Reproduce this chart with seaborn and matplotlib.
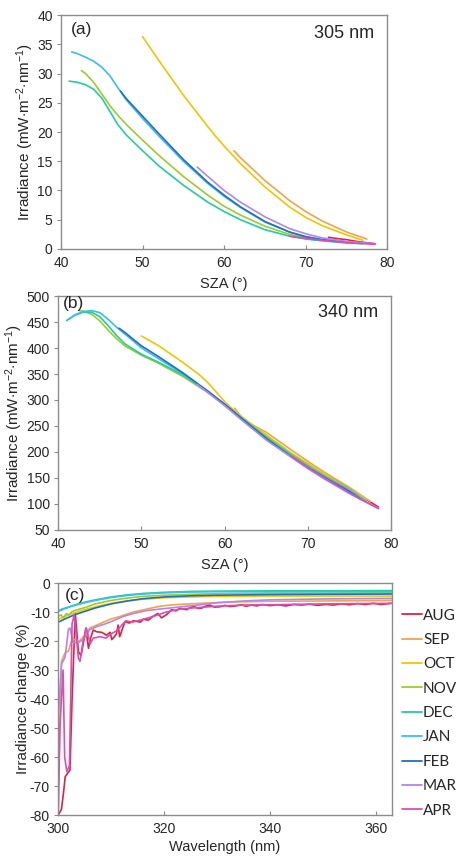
import pandas as pd
import seaborn as sns
import matplotlib.pyplot as plt

# months and colours
months = ['AUG', 'SEP', 'OCT', 'NOV', 'DEC', 'JAN', 'FEB', 'MAR', 'APR']
colors = ['#d7263d', '#f0a54a', '#f2c500', '#9ccc2c', '#1fcf9c',
          '#3cbcf0', '#1f6fc5', '#b384f5', '#d94fb5']

# (a)/(b) irradiance vs SZA, per month: SZA, 305 nm, 340 nm
sza_aug = [72.8, 74, 75, 76, 77, 78.5]
i305_aug = [2.0, 1.75, 1.6, 1.35, 1.15, 0.9]
i340_aug = [151, 139, 129, 119, 109, 94]

sza_sep = [61.2, 62, 63, 65, 68, 70, 72, 75, 77.5]
i305_sep = [16.8, 15.6, 14.3, 11.7, 8.3, 6.4, 4.8, 2.9, 1.7]
i340_sep = [284, 268, 255, 238, 204, 182, 161, 132, 105]

sza_oct = [50, 52, 55, 57, 58, 59, 60, 61, 62, 65, 68, 70, 72, 75, 77]
i305_oct = [36.3, 32.2, 26.3, 22.7, 20.9, 19.2, 17.6, 16.1, 14.6, 10.6, 7.2, 5.4, 4.0,
            2.4, 1.5]
i340_oct = [423, 405, 372, 348, 333, 315, 297, 282, 268, 233, 198, 178, 158, 128, 109]

sza_nov = [42.5, 43, 44, 45, 46, 47, 48, 50, 52, 55, 58, 60, 62, 65, 68, 70, 72, 75, 77]
i305_nov = [30.5, 30.0, 28.5, 26.5, 24.5, 22.8, 21.3, 18.6, 16.0, 12.4, 9.2, 7.3, 5.8,
            3.9, 2.5, 1.9, 1.5, 1.1, 0.95]
i340_nov = [472, 471, 465, 452, 434, 418, 404, 386, 371, 345, 314, 291, 266, 230, 196,
            175, 155, 128, 106]

sza_dec = [41, 42, 43, 44, 45, 46, 47, 48, 50, 52, 55, 58, 60, 62, 65, 68, 70, 72, 75, 77]
i305_dec = [28.7, 28.5, 28.1, 27.3, 25.8, 23.5, 21.2, 19.5, 16.8, 14.2, 10.9, 8.0, 6.4,
            5.0, 3.3, 2.2, 1.7, 1.4, 1.05, 0.9]
i340_dec = [453, 463, 469, 469, 460, 443, 424, 408, 388, 373, 348, 316, 292, 266, 228,
            194, 173, 153, 125, 104]

sza_jan = [41.3, 42, 43, 44, 45, 46, 47, 48, 50, 52, 55, 58, 60, 62, 65, 68, 70, 72, 75, 77]
i305_jan = [33.7, 33.4, 32.8, 32.1, 31.1, 29.6, 27.5, 25.5, 22.3, 19.3, 15.0, 11.2, 9.0,
            7.1, 4.6, 2.9, 2.1, 1.6, 1.2, 1.0]
i340_jan = [456, 464, 470, 472, 468, 455, 440, 427, 400, 380, 350, 315, 291, 264, 226,
            192, 172, 153, 127, 105]

sza_feb = [47.3, 48, 50, 52, 55, 58, 60, 62, 65, 68, 70, 72, 75, 76.5]
i305_feb = [27.0, 25.7, 22.7, 19.7, 15.3, 11.4, 9.2, 7.2, 4.7, 2.9, 2.1, 1.6, 1.15, 1.0]
i340_feb = [438, 430, 404, 384, 352, 317, 292, 265, 226, 191, 170, 151, 124, 108]

sza_mar = [56.7, 58, 60, 62, 65, 68, 70, 72, 75, 78.5]
i305_mar = [14.0, 12.4, 10.0, 8.0, 5.5, 3.5, 2.6, 1.9, 1.3, 0.9]
i340_mar = [330, 314, 289, 262, 223, 190, 168, 148, 120, 92]

sza_apr = [68, 70, 72, 74, 76, 78.5]
i305_apr = [2.2, 1.8, 1.5, 1.2, 1.0, 0.8]
i340_apr = [192, 170, 150, 131, 112, 91]

# (c) irradiance change vs wavelength
wl_aug = [300, 300.3, 300.6, 301, 301.3, 301.6, 302.2, 302.6, 303.2, 303.8, 304.3, 304.7,
          305.2, 305.7, 306.1, 306.6, 307.2, 308.2, 309.1, 309.8, 310.1, 310.6, 311,
          311.3, 311.6, 312.6, 313.4, 314.2, 315.5, 316.1, 317.0, 317.9, 318.8, 319.5,
          320.4, 321.4, 322.2, 323, 324.2, 325.5, 326.2, 327, 327.8, 328.6, 329.5, 330.5,
          331.5, 332.5, 333.5, 334.5, 335.5, 336.5, 337.5, 338.5, 340, 341.5, 343, 344.5,
          346, 347.5, 349, 350.5, 352, 353.5, 355, 356.5, 358, 359.5, 361, 362.5, 363]
ch_aug = [-80, -79, -78, -72, -66.8, -66, -64.5, -40, -10.5, -23.7, -25, -21, -15.6,
          -22.5, -19, -16.2, -16.8, -17, -18, -17, -19.5, -18.5, -17.5, -14.5, -18.5,
          -13.3, -13.8, -13, -13.5, -12.5, -12.8, -11.5, -10.5, -12, -11, -9.2, -9.6,
          -8.7, -9.2, -8, -8.6, -8.7, -8.0, -7.6, -8.3, -8.2, -7.7, -8.1, -7.9, -7.5,
          -8.0, -7.6, -7.9, -7.4, -7.8, -7.5, -7.9, -7.4, -7.6, -7.3, -7.7, -7.4, -7.6,
          -7.2, -7.5, -7.1, -7.4, -7.0, -7.4, -7.1, -7.0]

wl_sep = [300, 300.3, 300.6, 301.3, 301.9, 302.5, 303.1, 304, 305, 306, 307.9, 309.8,
          311.7, 314.2, 316.7, 319.2, 321.7, 326.8, 332, 340, 350, 363]
ch_sep = [-72, -48, -27, -24, -23.5, -20, -19.5, -20, -18, -15.5, -14, -12.5, -11.5,
          -10, -9, -8, -7.5, -7, -6.6, -6.3, -6.2, -6.0]

wl_oct = [300, 301, 302, 303, 305, 307, 310, 313, 316, 320, 325, 330, 340, 350, 363]
ch_oct = [-12.5, -11.8, -11, -10.3, -9.2, -8.2, -7, -6.2, -5.6, -5.1, -4.8, -4.6, -4.5,
          -4.5, -4.5]

wl_nov = [300, 300.5, 301, 301.5, 302, 302.5, 303, 304, 305, 307, 310, 313, 316, 320,
          325, 330, 340, 350, 363]
ch_nov = [-11.5, -11, -12, -10.5, -11, -10, -9.5, -9, -8.5, -7.2, -6, -5.2, -4.6, -4.2,
          -3.9, -3.7, -3.5, -3.5, -3.4]

wl_dec = [300, 301, 302, 303, 305, 307, 310, 313, 316, 320, 325, 330, 340, 350, 363]
ch_dec = [-9.5, -8.8, -8.3, -7.6, -6.6, -5.8, -4.8, -4.1, -3.6, -3.2, -2.9, -2.8, -2.7,
          -2.7, -2.6]

wl_jan = [300, 301, 302, 303, 305, 307, 310, 313, 316, 320, 325, 330, 340, 350, 363]
ch_jan = [-9.8, -9.0, -8.3, -7.8, -6.8, -6.0, -5.0, -4.3, -3.8, -3.4, -3.1, -3.0, -3.0,
          -3.0, -3.0]

wl_feb = [300, 301, 302, 303, 305, 307, 310, 313, 316, 320, 325, 330, 340, 350, 363]
ch_feb = [-13.5, -12.6, -11.8, -11.0, -9.8, -8.6, -7.2, -6.2, -5.4, -4.8, -4.4, -4.2,
          -4.0, -3.9, -3.8]

wl_mar = [300, 300.6, 301.3, 301.9, 302.2, 302.8, 303.8, 304.7, 306, 307.3, 309, 310.4,
          312.3, 314.2, 316.7, 319.2, 321.7, 324.2, 326.8, 330, 335, 340, 350, 363]
ch_mar = [-45, -28, -25.5, -16, -15.5, -20.5, -20.5, -19.5, -16, -15, -14, -13, -11.5,
          -10.5, -9.5, -9, -8.5, -8, -7.5, -6.8, -6.2, -5.8, -5.5, -5.3]

wl_apr = [300, 300.3, 300.9, 301.2, 301.6, 302.1, 302.6, 303, 303.8, 304.1, 304.7, 305.3,
          306, 306.6, 307.9, 309, 310, 311, 312, 312.8, 314, 316, 318, 320.4, 323, 326,
          330, 335, 340, 350, 363]
ch_apr = [-80, -50, -30, -60, -65, -63, -14, -11, -26, -27, -20, -15.5, -21, -19, -18.5,
          -19, -17.5, -16.5, -14.5, -13, -13.5, -12.5, -11.5, -10, -9, -8.5, -8, -7.6,
          -7.5, -7.2, -7.0]

sza_all = [sza_aug, sza_sep, sza_oct, sza_nov, sza_dec, sza_jan, sza_feb, sza_mar, sza_apr]
i305_all = [i305_aug, i305_sep, i305_oct, i305_nov, i305_dec, i305_jan, i305_feb, i305_mar, i305_apr]
i340_all = [i340_aug, i340_sep, i340_oct, i340_nov, i340_dec, i340_jan, i340_feb, i340_mar, i340_apr]
wl_all = [wl_aug, wl_sep, wl_oct, wl_nov, wl_dec, wl_jan, wl_feb, wl_mar, wl_apr]
ch_all = [ch_aug, ch_sep, ch_oct, ch_nov, ch_dec, ch_jan, ch_feb, ch_mar, ch_apr]


def long_df(xs, ys):
    rows = []
    for m, xx, yy in zip(months, xs, ys):
        for a, b in zip(xx, yy):
            rows.append((m, a, b))
    return pd.DataFrame(rows, columns=['month', 'x', 'y'])


df_a = long_df(sza_all, i305_all)
df_b = long_df(sza_all, i340_all)
df_c = long_df(wl_all, ch_all)

sns.set_style('white')
plt.rcParams['font.family'] = ['Liberation Sans', 'DejaVu Sans']
plt.rcParams['mathtext.fontset'] = 'custom'
plt.rcParams['mathtext.rm'] = 'Liberation Sans'
plt.rcParams['mathtext.it'] = 'Liberation Sans'
plt.rcParams['axes.unicode_minus'] = False

txt = '#262626'
grey = '#8c8c8c'
pal = dict(zip(months, colors))
ylab = r'Irradiance (mW$\cdot$m$^{-2}$$\cdot$nm$^{-1}$)'

fig = plt.figure(figsize=(4.57, 8.58), dpi=100)
ax_a = fig.add_axes([0.1335, 0.7098, 0.7140, 0.2727])
ax_b = fig.add_axes([0.1276, 0.3823, 0.7280, 0.2727])
ax_c = fig.add_axes([0.1276, 0.0501, 0.7295, 0.2704])

for ax, d in [(ax_a, df_a), (ax_b, df_b), (ax_c, df_c)]:
    sns.lineplot(data=d, x='x', y='y', hue='month', hue_order=months, palette=pal,
                 estimator=None, sort=False, linewidth=1.2, ax=ax, legend=False)
    for s in ax.spines.values():
        s.set_color(grey)
        s.set_linewidth(1.0)
    ax.tick_params(axis='both', labelsize=10, colors=txt, length=3, width=0.8,
                   bottom=True, left=True)
    ax.tick_params(axis='x', direction='in', color=grey, pad=5)
    ax.tick_params(axis='y', direction='out', color=grey, pad=3)

# (a)
ax_a.set_xlim(40, 80)
ax_a.set_ylim(0, 40)
ax_a.set_xticks([40, 50, 60, 70, 80])
ax_a.set_yticks(range(0, 41, 5))
ax_a.set_xlabel('SZA (°)', fontsize=10.5, color=txt, labelpad=5)
ax_a.set_ylabel(ylab, fontsize=11, color=txt, labelpad=0.5)
ax_a.text(0.03, 0.97, '(a)', transform=ax_a.transAxes, fontsize=12.5, color=txt, va='top')
ax_a.text(0.96, 0.92, '305 nm', transform=ax_a.transAxes, fontsize=13, color=txt,
          ha='right', va='center')

# (b)
ax_b.set_xlim(40, 80)
ax_b.set_ylim(50, 500)
ax_b.set_xticks([40, 50, 60, 70, 80])
ax_b.set_yticks(range(50, 501, 50))
ax_b.set_xlabel('SZA (°)', fontsize=10.5, color=txt, labelpad=5)
ax_b.set_ylabel(ylab, fontsize=11, color=txt, labelpad=1)
ax_b.text(0.015, 1.0, '(b)', transform=ax_b.transAxes, fontsize=12.5, color=txt, va='top')
ax_b.text(0.96, 0.93, '340 nm', transform=ax_b.transAxes, fontsize=13, color=txt,
          ha='right', va='center')

# (c)
ax_c.set_xlim(300, 363)
ax_c.set_ylim(-80, 0)
ax_c.set_xticks([300, 320, 340, 360])
ax_c.set_yticks(range(-80, 1, 10))
ax_c.set_xlabel('Wavelength (nm)', fontsize=10.5, color=txt, labelpad=3)
ax_c.set_ylabel('Irradiance change (%)', fontsize=11, color=txt, labelpad=0)
ax_c.text(0.02, 0.98, '(c)', transform=ax_c.transAxes, fontsize=12.5, color=txt, va='top')

handles = [plt.Line2D([], [], color=c, lw=1.3) for c in colors]
ax_c.legend(handles, months, loc='upper left', bbox_to_anchor=(1.03, 0.89),
            frameon=False, handlelength=1.3, handletextpad=0.1,
            labelspacing=0.68, borderpad=0, borderaxespad=0,
            prop={'family': 'Lato', 'size': 11})

fig.savefig('out.png', dpi=100)
